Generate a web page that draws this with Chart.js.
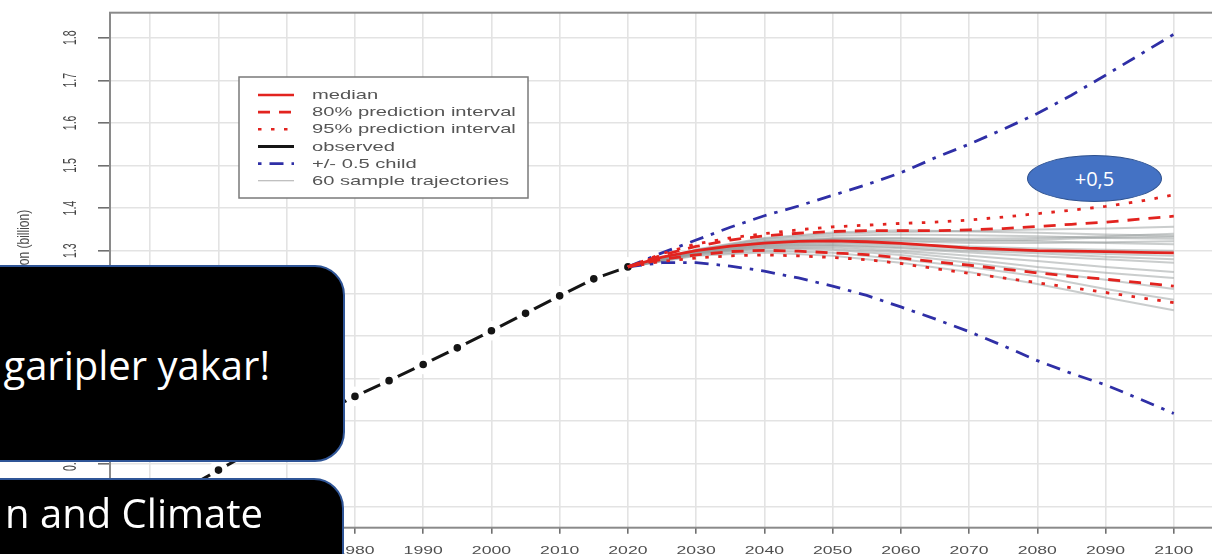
<!DOCTYPE html>
<html><head><meta charset="utf-8">
<script src="https://cdn.jsdelivr.net/npm/chart.js@4.4.1/dist/chart.umd.min.js"></script>
<style>
html,body{margin:0;padding:0;background:#fff;overflow:hidden;width:1212px;height:554px;}
#c{position:absolute;left:0;top:0;}
.box{position:absolute;background:#000;border:2px solid #2F5597;border-radius:30px;box-sizing:border-box;color:#fff;font-family:"Open Sans",sans-serif;}
.box span{position:absolute;white-space:nowrap;font-size:40px;line-height:1;}
#oval{position:absolute;left:1027px;top:155px;width:135px;height:47px;border-radius:50%;background:#4472C4;border:1.5px solid #2F528F;box-sizing:border-box;color:#fff;font-family:"Open Sans",sans-serif;font-size:20px;display:flex;align-items:center;justify-content:center;}
</style></head>
<body>
<canvas id="c" width="1212" height="554"></canvas>
<div class="box" style="left:-40px;top:265px;width:385px;height:197px;"><span style="right:73px;top:77.5px;">garipler yakar!</span></div>
<div class="box" style="left:-40px;top:478px;width:384px;height:130px;"><span style="right:79px;top:12.5px;">n and Climate</span></div>
<div id="oval">+0,5</div>
<script>
// ---- data ----
const obsYears = [1950,1955,1960,1965,1970,1975,1980,1985,1990,1995,2000,2005,2010,2015,2020];
const obsPop   = [0.695,0.740,0.785,0.830,0.875,0.918,0.958,0.995,1.033,1.072,1.112,1.153,1.194,1.234,1.262];

const projYears = [2020,2025,2030,2035,2040,2045,2050,2055,2060,2065,2070,2075,2080,2085,2090,2095,2100];
const median    = [1.262,1.285,1.300,1.311,1.318,1.322,1.323,1.321,1.317,1.312,1.306,1.303,1.300,1.299,1.298,1.296,1.295];
const pi80Upper = [1.262,1.290,1.310,1.325,1.335,1.341,1.345,1.347,1.347,1.347,1.349,1.352,1.357,1.362,1.367,1.374,1.381];
const pi80Lower = [1.262,1.280,1.290,1.298,1.301,1.299,1.295,1.291,1.283,1.274,1.266,1.257,1.248,1.240,1.233,1.225,1.217];
const pi95Upper = [1.262,1.293,1.316,1.330,1.340,1.349,1.356,1.360,1.364,1.367,1.372,1.379,1.387,1.395,1.404,1.416,1.431];
const pi95Lower = [1.262,1.275,1.283,1.288,1.290,1.288,1.284,1.279,1.270,1.258,1.247,1.236,1.225,1.213,1.202,1.190,1.178];
const childPlus = [1.262,1.295,1.325,1.355,1.382,1.405,1.430,1.455,1.483,1.518,1.550,1.585,1.622,1.665,1.712,1.760,1.808];
const childMinus= [1.262,1.272,1.272,1.264,1.252,1.236,1.217,1.195,1.168,1.140,1.110,1.077,1.042,1.012,0.985,0.952,0.918];

const trajYears = [2020,2030,2040,2050,2060,2070,2080,2090,2100];
const sampleTrajectories = [
  [1.262,1.300,1.322,1.330,1.330,1.328,1.330,1.334,1.340],
  [1.262,1.296,1.314,1.318,1.312,1.305,1.298,1.292,1.288],
  [1.262,1.302,1.328,1.340,1.344,1.346,1.350,1.352,1.356],
  [1.262,1.294,1.309,1.310,1.300,1.288,1.276,1.262,1.250],
  [1.262,1.298,1.318,1.325,1.322,1.318,1.318,1.320,1.322],
  [1.262,1.292,1.305,1.302,1.290,1.272,1.252,1.232,1.210],
  [1.262,1.301,1.325,1.335,1.338,1.336,1.334,1.330,1.328],
  [1.262,1.297,1.316,1.320,1.316,1.310,1.305,1.302,1.300],
  [1.262,1.293,1.307,1.306,1.296,1.280,1.262,1.248,1.236],
  [1.262,1.299,1.320,1.328,1.328,1.325,1.322,1.318,1.315],
  [1.262,1.290,1.300,1.295,1.280,1.262,1.240,1.210,1.185],
  [1.262,1.303,1.330,1.343,1.348,1.345,1.342,1.338,1.335],
  [1.262,1.295,1.311,1.313,1.306,1.296,1.287,1.280,1.272],
  [1.262,1.288,1.296,1.288,1.272,1.250,1.222,1.190,1.160],
  [1.262,1.300,1.321,1.327,1.324,1.322,1.326,1.331,1.333],
  [1.262,1.296,1.312,1.314,1.308,1.300,1.294,1.286,1.280]
];

const yearTicks = [1950,1960,1970,1980,1990,2000,2010,2020,2030,2040,2050,2060,2070,2080,2090,2100];
const popTicks  = [0.7,0.8,0.9,1.0,1.1,1.2,1.3,1.4,1.5,1.6,1.7,1.8];
const legendLabels = ['median','80% prediction interval','95% prediction interval','observed','+/- 0.5 child','60 sample trajectories'];
const yTitle = 'Population (billion)';

// ---- styles ----
const RED = '#e2231f', BLUE = '#2f2fa6', BLACK = '#151515', TRAJ = 'rgba(150,155,155,0.5)';
const DASH80 = [12, 9], DOT95 = [3.5, 9.5], DASHCHILD = [14, 8, 3.5, 8];

const toXY = (xs, ys) => ys.map((v, i) => ({x: xs[i], y: v}));
const datasets = [];
datasets.push({label: legendLabels[0], data: toXY(projYears, median), borderColor: RED, borderWidth: 2.8, pointRadius: 0, order: 1});
datasets.push({label: legendLabels[1], data: toXY(projYears, pi80Upper), borderColor: RED, borderWidth: 2.8, borderDash: DASH80, pointRadius: 0, order: 2});
datasets.push({label: legendLabels[1], data: toXY(projYears, pi80Lower), borderColor: RED, borderWidth: 2.8, borderDash: DASH80, pointRadius: 0, order: 2});
datasets.push({label: legendLabels[2], data: toXY(projYears, pi95Upper), borderColor: RED, borderWidth: 2.8, borderDash: DOT95, pointRadius: 0, order: 3});
datasets.push({label: legendLabels[2], data: toXY(projYears, pi95Lower), borderColor: RED, borderWidth: 2.8, borderDash: DOT95, pointRadius: 0, order: 3});
datasets.push({label: legendLabels[4], data: toXY(projYears, childPlus), borderColor: BLUE, borderWidth: 2.8, borderDash: DASHCHILD, pointRadius: 0, order: 4});
datasets.push({label: legendLabels[4], data: toXY(projYears, childMinus), borderColor: BLUE, borderWidth: 2.8, borderDash: DASHCHILD, pointRadius: 0, order: 4});
sampleTrajectories.forEach(t => datasets.push({label: legendLabels[5], data: toXY(trajYears, t), borderColor: TRAJ, borderWidth: 2, pointRadius: 0, order: 8}));
datasets.push({label: legendLabels[3], data: toXY(obsYears, obsPop), borderColor: BLACK, borderWidth: 3,
  pointRadius: 6.8, pointBorderWidth: 6, pointBorderColor: '#ffffff', pointBackgroundColor: BLACK, order: 10});

const legendStyles = [
  {color: RED, width: 2.6, dash: []},
  {color: RED, width: 2.6, dash: DASH80},
  {color: RED, width: 2.6, dash: DOT95},
  {color: BLACK, width: 3, dash: []},
  {color: BLUE, width: 2.6, dash: [3.5, 8, 14, 8]},
  {color: 'rgba(150,150,150,0.8)', width: 1.2, dash: []}
];

const Y_LABEL_X = 71, Y_TITLE_X = 24;
const framePlugin = {
  id: 'frame',
  beforeDraw(chart) {
    const y = chart.scales.y, x = chart.scales.x;
    if (!y._patched) {
      y._patched = true;
      const origL = y.drawLabels.bind(y);
      y.drawLabels = function(area) {
        const items = y.getLabelItems(area);
        const cx = items.length ? items[0].options.translation[0] : Y_LABEL_X;
        const ctx = chart.ctx; ctx.save();
        ctx.translate(Y_LABEL_X, 0); ctx.scale(1.75, 1); ctx.translate(-cx, 0);
        origL(area); ctx.restore();
      };
      const origT = y.drawTitle.bind(y);
      y.drawTitle = function() {
        const f = y.options.title.font;
        const cx = y.left + y.options.title.padding.top + (f.size * 1.2) / 2;
        const ctx = chart.ctx; ctx.save();
        ctx.translate(Y_TITLE_X, -11); ctx.scale(1.4, 1); ctx.translate(-cx, 0);
        origT(); ctx.restore();
      };
    }
    if (!x._patched) {
      x._patched = true;
      x.drawLabels = function(area) {
        const ctx = chart.ctx;
        const items = x.getLabelItems(area);
        ctx.save();
        items.forEach(it => {
          const o = it.options;
          ctx.save();
          ctx.translate(o.translation[0], o.translation[1]);
          ctx.scale(1.6, 1);
          ctx.font = it.font.string; ctx.fillStyle = o.color;
          ctx.textAlign = o.textAlign; ctx.textBaseline = o.textBaseline;
          ctx.fillText(it.label, 0, it.textOffset || 0);
          ctx.restore();
        });
        ctx.restore();
      };
    }
  },
  afterDatasetsDraw(chart) {
    const ctx = chart.ctx, a = chart.chartArea;
    ctx.save();
    ctx.strokeStyle = '#8a8a8a'; ctx.lineWidth = 2;
    ctx.strokeRect(a.left, a.top, a.right - a.left + 10, a.bottom - a.top);
    // legend
    const lx = 239, ly = 77, lw = 289, lh = 121;
    ctx.fillStyle = '#fff'; ctx.fillRect(lx, ly, lw, lh);
    ctx.strokeStyle = '#7a7a7a'; ctx.lineWidth = 1.5; ctx.strokeRect(lx, ly, lw, lh);
    legendLabels.forEach((lab, i) => {
      const yy = 95 + i * 17.15;
      const st = legendStyles[i];
      ctx.beginPath(); ctx.setLineDash(st.dash); ctx.strokeStyle = st.color; ctx.lineWidth = st.width;
      ctx.moveTo(258, yy); ctx.lineTo(294, yy); ctx.stroke();
      ctx.setLineDash([]);
      ctx.save(); ctx.translate(312, yy); ctx.scale(1.55, 1);
      ctx.fillStyle = '#555'; ctx.font = '13px "Liberation Sans", Arial, sans-serif';
      ctx.textBaseline = 'middle'; ctx.textAlign = 'left';
      ctx.fillText(lab, 0, 0.5);
      ctx.restore();
    });
    ctx.restore();
  }
};

new Chart(document.getElementById('c'), {
  type: 'line',
  data: {datasets},
  options: {
    responsive: false, animation: false, devicePixelRatio: 1,
    layout: {autoPadding: false, padding: {top: 12.7, right: 0, bottom: 0, left: 0}},
    plugins: {legend: {display: false}, tooltip: {enabled: false}},
    elements: {line: {tension: 0}},
    scales: {
      x: {
        type: 'linear', min: 1944.1, max: 2105.6,
        afterBuildTicks: s => { s.ticks = yearTicks.map(v => ({value: v})); },
        afterFit: s => { s.height = 26.3; },
        grid: {color: '#e3e3e3', lineWidth: 1.6, tickColor: '#707070', tickWidth: 1.6, tickLength: 6, drawTicks: true},
        border: {display: false},
        ticks: {color: '#4f4f4f', font: {family: 'Liberation Sans', size: 11}, padding: 11, minRotation: 0, maxRotation: 0, autoSkip: false, callback: v => String(v)}
      },
      y: {
        type: 'linear', min: 0.6498, max: 1.8587,
        afterBuildTicks: s => { s.ticks = popTicks.map(v => ({value: v})); },
        afterFit: s => { s.width = 110; },
        grid: {color: '#e3e3e3', lineWidth: 1.6, tickColor: '#707070', tickWidth: 1.6, tickLength: 12, drawTicks: true},
        border: {display: false},
        ticks: {color: '#444', font: {family: 'Liberation Sans', size: 10.5}, padding: 1, minRotation: 90, maxRotation: 90, crossAlign: 'center', autoSkip: false, callback: v => Number(v).toFixed(1)},
        title: {display: true, text: yTitle, color: '#4a4a4a', font: {family: 'Liberation Sans', size: 12}, padding: {top: 4, bottom: 0}}
      }
    }
  },
  plugins: [framePlugin]
});
</script>
</body></html>
